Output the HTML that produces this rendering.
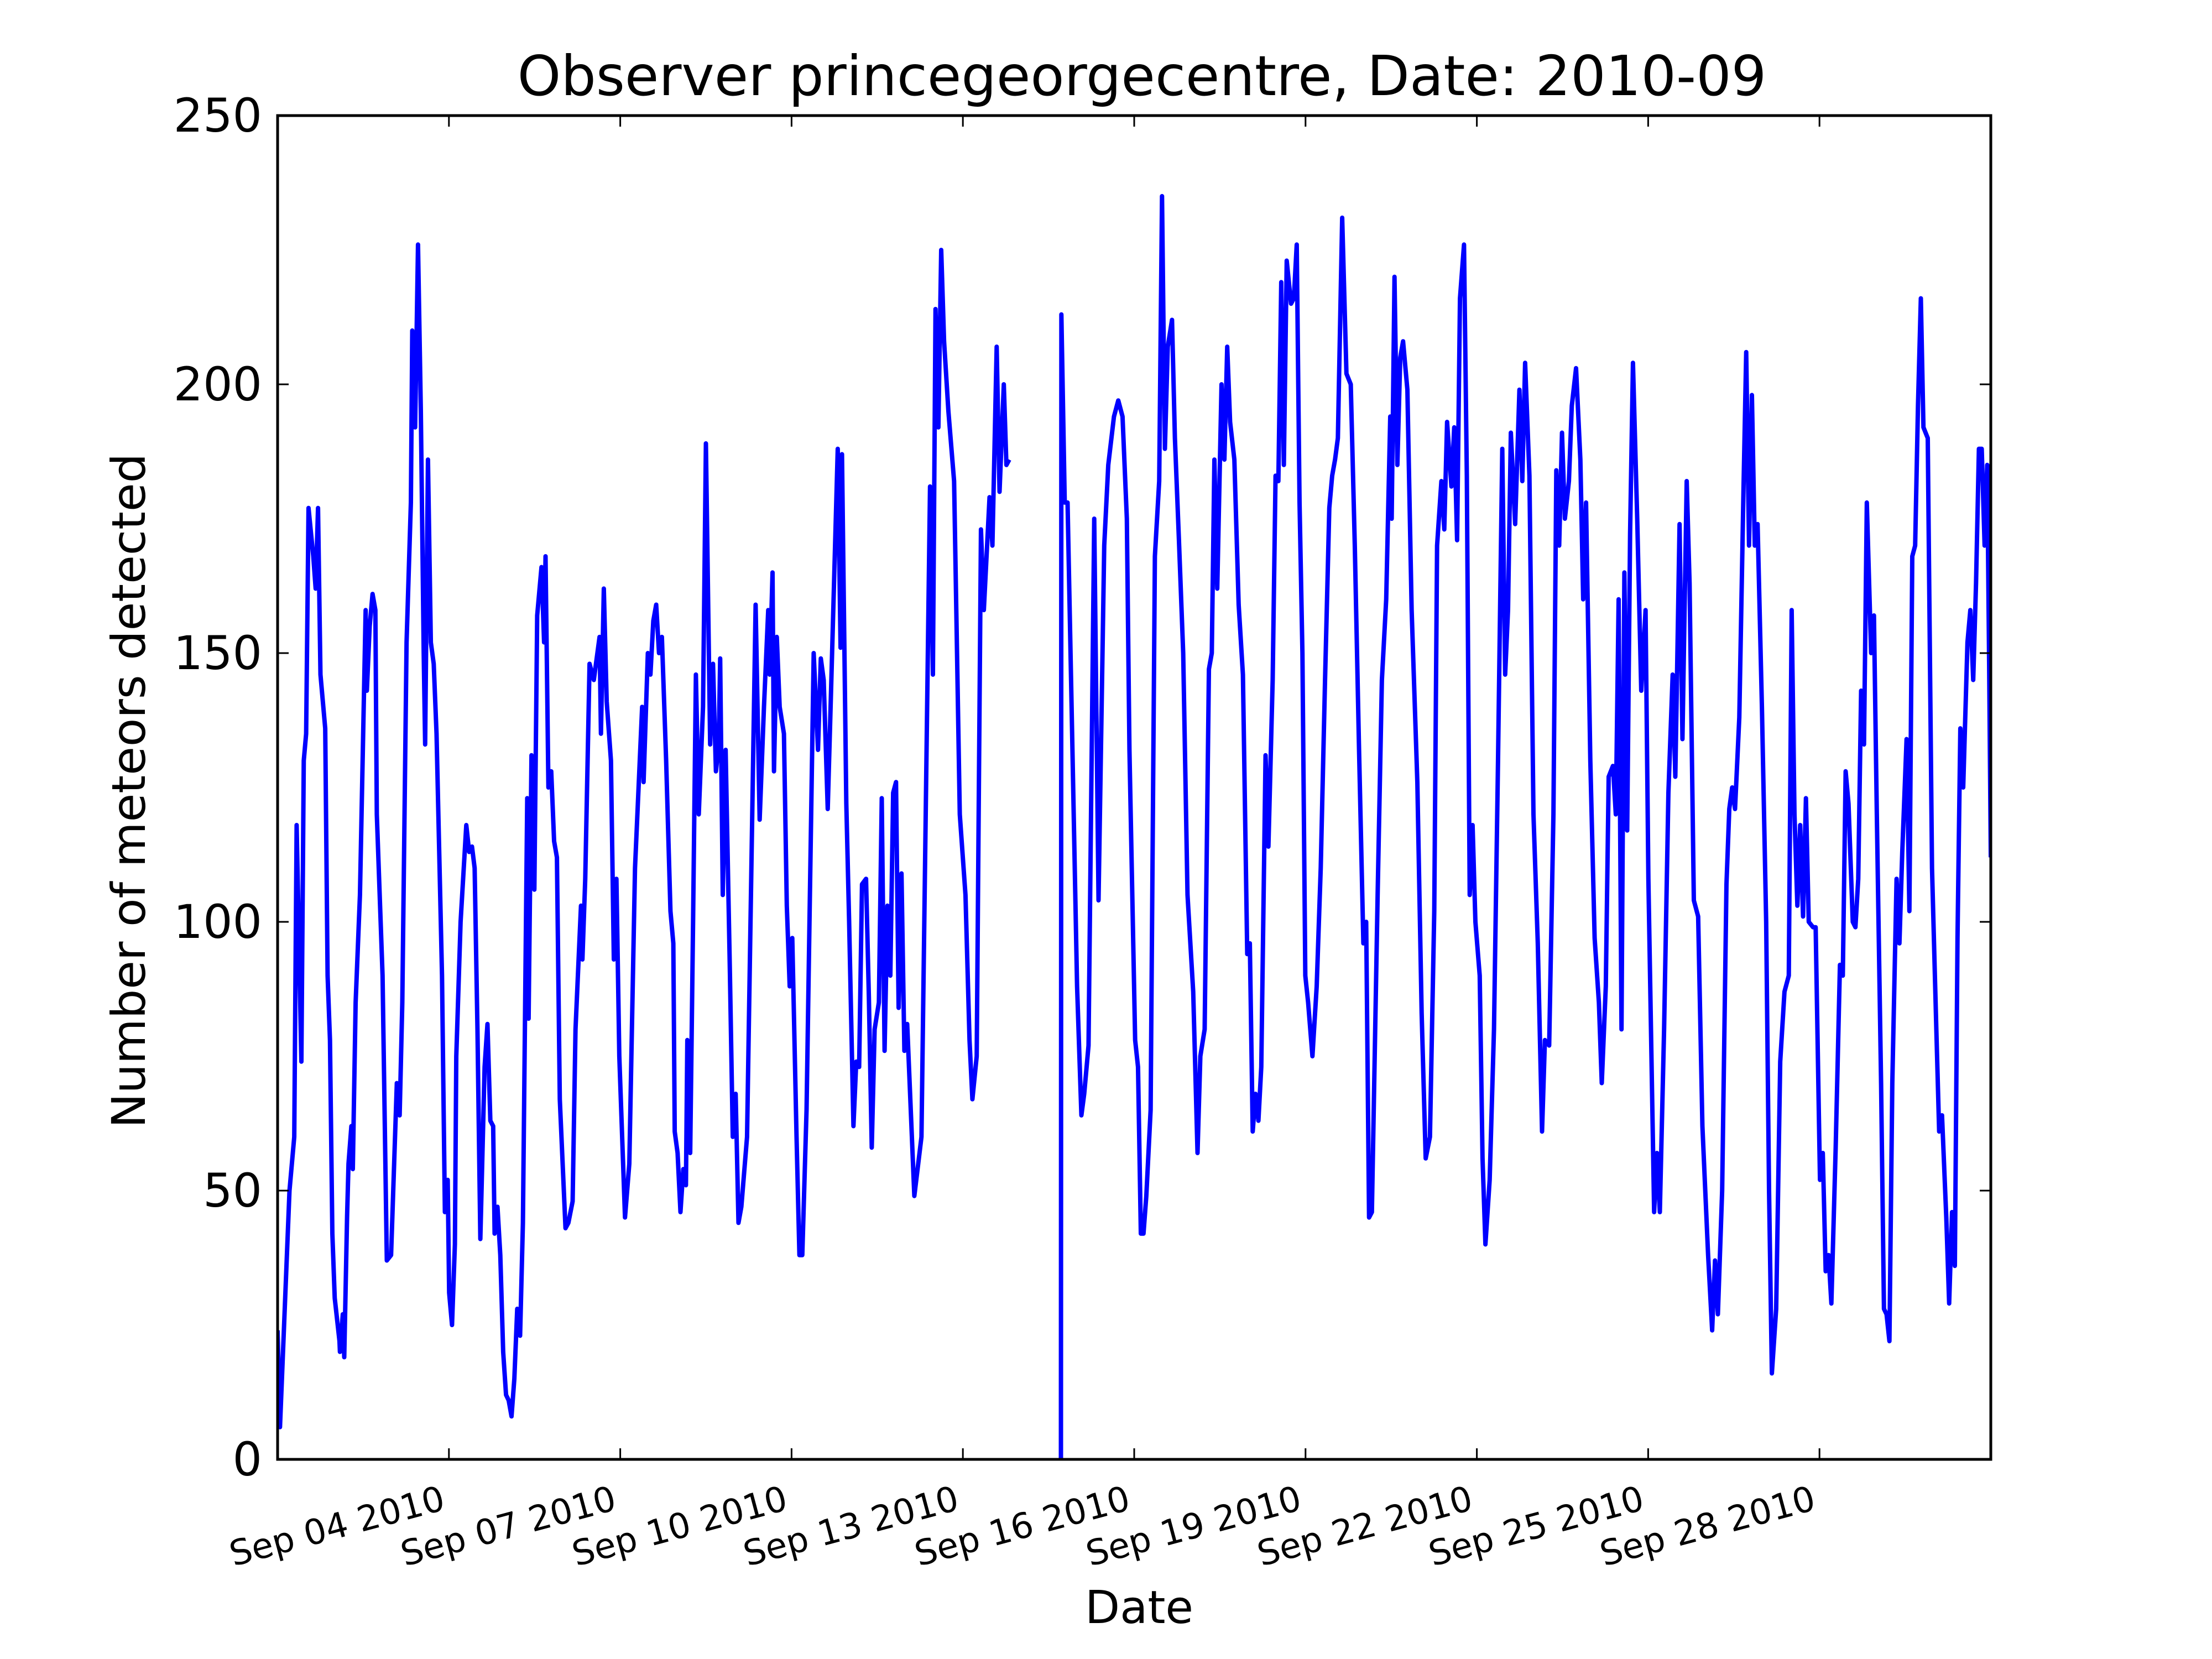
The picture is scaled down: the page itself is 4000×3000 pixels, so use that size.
<!DOCTYPE html>
<html>
<head>
<meta charset="utf-8">
<style>
  html, body { margin: 0; padding: 0; background: #ffffff; }
  svg { display: block; }
  text { font-family: "DejaVu Sans", "Liberation Sans", sans-serif; fill: #000; }
</style>
</head>
<body>
<svg id="chart" width="4000" height="3000" viewBox="0 0 4000 3000" xmlns="http://www.w3.org/2000/svg">
  <rect x="0" y="0" width="4000" height="3000" fill="#ffffff"/>
  <text x="2065" y="172" font-size="100" text-anchor="middle">Observer princegeorgecentre, Date: 2010-09</text>
  <g id="plot"></g>
  <g id="xticks"></g>
  <g id="yticks"></g>
  <text x="2060" y="2935" font-size="82" text-anchor="middle">Date</text>
  <text x="0" y="0" font-size="84" text-anchor="middle" transform="translate(262,1430) rotate(-90)">Number of meteors detected</text>
</svg>
<script>
// hours since 2010-09-01 00:00
const hours = [0,1,5,7,8,10,11,12,13,15,16,17,18,20,21,22,23,24,26,26.2,27.4,28.0,29.2,29.8,31.0,31.6,32.8,34.6,37.0,37.5,38.7,39.9,41.1,41.7,44.1,45.9,47.7,50.1,51.3,52.4,54.2,56.0,56.6,57.8,59.0,60.2,61.4,62.0,63.2,64.4,65.6,66.8,69.1,70.3,71.5,72.1,73.3,74.5,75.1,76.9,79.3,80.5,81.7,82.8,84.0,85.2,87.0,88.2,89.4,90.6,91.2,92.4,93.6,94.8,96.0,97.1,98.3,99.5,100.7,101.9,103.1,104.9,105.5,106.7,107.9,109.1,110.9,112.0,112.6,113.8,115.0,116.2,117.4,118.6,121.0,122.2,124.0,125.2,127.5,128.1,129.3,131.1,132.9,134.1,135.3,135.9,137.1,138.3,140.1,141.3,142.4,143.6,146.0,147.8,150.2,153.2,153.8,155.6,156.7,157.9,159.1,160.3,161.5,163.3,165.1,166.3,166.9,168.1,169.3,170.5,171.6,172.2,173.4,174.6,175.8,177.0,178.8,180.0,181.8,183.0,184.2,185.4,186.0,187.1,188.3,190.1,191.3,192.5,193.7,194.9,197.3,200.9,202.6,204.4,206.2,206.8,208.0,208.6,209.8,211.0,212.8,214.0,215.2,216.3,218.1,219.3,220.5,222.3,225.3,227.1,228.3,229.5,231.2,232.4,235.4,236.6,237.2,239.0,240.2,242.0,243.2,244.4,245.6,247.3,248.5,249.7,250.9,252.7,253.9,255.1,256.3,257.5,258.7,259.9,261.0,262.2,263.4,264.6,267.6,270.6,274.2,275.4,276.5,277.7,278.9,280.1,281.9,284.3,286.7,289.1,290.8,292.0,293.8,295.6,296.8,299.2,300.4,302.2,303.4,305.2,306.3,307.5,
  318,
  329.2,329.4,330.8,332.0,333.7,336.0,337.8,339.0,340.8,343.2,345.0,347.4,349.1,351.5,353.3,355.1,356.9,358.0,360.4,361.6,362.8,363.9,365.1,366.9,368.7,370.5,371.7,372.9,374.1,375.9,377.1,378.8,380.6,382.4,384.8,386.6,387.8,389.6,391.4,392.6,393.7,394.9,396.7,397.9,399.1,400.3,402.1,403.9,405.7,407.5,408.6,409.8,411.0,412.2,413.4,415.2,416.4,418.2,419.4,420.6,421.8,422.9,424.1,425.9,427.1,428.3,429.5,430.7,431.9,433.1,434.9,436.7,438.4,440.2,442.0,443.2,444.4,445.6,447.4,449.2,451.0,452.7,454.5,456.3,457.5,458.7,459.9,462.3,464.1,465.9,467.6,468.2,469.4,470.6,471.8,473.0,474.8,476.6,479.0,480.8,482.5,484.3,486.1,487.3,489.1,490.3,491.5,493.3,494.5,495.7,496.9,498.6,499.8,501.0,502.2,503.4,505.2,506.4,507.6,509.4,511.2,512.9,514.7,515.9,517.1,518.3,520.1,521.9,523.1,524.3,526.1,527.8,529.6,531.4,532.6,534.4,536.2,537.4,538.6,539.8,541.0,542.7,543.9,545.7,547.5,548.7,549.9,551.7,553.5,555.3,556.5,558.2,559.4,561.2,562.4,563.6,564.8,566.0,567.2,568.4,569.6,571.4,573.1,574.9,576.1,578.5,579.7,580.9,582.7,584.5,586.3,587.4,589.2,590.4,592.2,593.4,595.2,597.0,598.8,601.2,602.9,604.1,605.3,607.1,608.9,610.1,611.3,612.5,614.3,616.1,617.2,618.4,619.6,620.8,622.0,623.8,625.6,626.8,628.0,629.8,631.5,633.3,635.1,636.3,637.5,638.7,639.9,641.1,642.3,643.5,645.3,646.4,648.2,649.4,650.6,651.8,653.0,654.8,656.6,657.8,659.0,660.2,662.0,663.1,664.3,665.5,666.7,667.9,669.7,670.9,672.1,673.9,675.1,676.2,677.4,678.6,680.4,681.6,682.8,684.6,685.8,687.0,688.2,689.4,690.6,691.7,693.5,695.3,697.1,698.3,699.5,701.3,702.5,703.7,704.9,706.0,707.2,708.4,710.2,711.4,712.6,713.8,715.0,716.2,717.4,718.5,719.3,720.0];
const meteors = [24,6,50,60,118,74,130,135,177,168,162,177,146,136,90,78,42,30,22,20,27,19,45,55,62,54,85,105,158,143,155,161,158,120,90,37,38,70,64,85,152,178,210,192,226,195,150,133,186,152,148,135,90,46,52,31,25,40,75,100,118,113,114,110,80,41,73,81,63,62,42,47,38,20,12,11,8,15,28,23,44,123,82,131,106,157,166,152,168,125,128,115,112,67,43,44,48,80,103,93,108,148,145,149,153,135,162,141,130,93,108,75,45,55,110,140,126,150,146,156,159,150,153,130,102,96,61,57,46,54,51,78,57,100,146,120,140,189,133,148,128,133,149,105,132,90,60,68,44,47,60,159,119,140,158,146,165,128,153,140,135,103,88,97,60,38,38,65,150,132,149,145,121,140,188,151,187,122,100,62,74,73,107,108,86,58,80,85,123,76,103,90,124,126,84,109,76,81,49,60,181,146,214,192,225,208,195,182,120,105,78,67,75,173,158,179,170,207,180,200,185,186,
  null,
  0,213,178,178,140,88,64,68,77,175,104,170,185,194,197,194,175,132,78,73,42,42,49,65,168,182,235,188,207,212,190,171,150,105,87,57,75,80,147,150,186,162,200,186,207,193,186,159,146,94,96,61,68,63,73,131,114,145,183,182,219,185,223,215,216,226,178,150,90,85,75,88,110,145,177,183,186,190,231,202,200,170,132,96,100,45,46,105,145,160,194,175,220,185,205,208,199,158,126,83,56,60,102,170,182,173,193,181,192,171,216,226,183,105,118,100,90,56,40,52,80,130,188,146,158,191,174,199,182,204,183,120,96,61,78,77,120,184,170,191,175,182,196,203,186,160,178,130,97,85,70,88,127,129,120,160,80,165,117,172,204,175,143,158,108,46,57,46,80,124,146,127,174,134,182,163,104,101,62,38,24,37,27,50,107,121,125,121,138,181,206,170,198,170,174,140,100,50,16,28,74,87,90,158,120,103,118,101,123,100,99,99,52,57,35,38,29,58,92,90,128,122,100,99,108,143,133,178,150,157,120,70,28,27,22,70,108,96,113,134,102,168,170,196,216,192,190,110,80,61,64,45,29,46,36,97,136,125,152,158,145,163,188,188,170,185,148,112,124];
const yTickValues = [0,50,100,150,200,250];
const xTickHours = [72,144,216,288,360,432,504,576,648];
const xTickLabels = ["Sep 04 2010","Sep 07 2010","Sep 10 2010","Sep 13 2010","Sep 16 2010","Sep 19 2010","Sep 22 2010","Sep 25 2010","Sep 28 2010"];

const NS = "http://www.w3.org/2000/svg";
const L = 502, R = 3600, T = 209, B = 2639;
const XMAX = 720, YMAX = 250;
function xs(h) { return L + (h / XMAX) * (R - L); }
function ys(v) { return B - (v / YMAX) * (B - T); }

const plot = document.getElementById('plot');
let d = "", pen = false;
for (let i = 0; i < hours.length; i++) {
  if (meteors[i] === null) { pen = false; continue; }
  d += (pen ? "L" : "M") + xs(hours[i]).toFixed(1) + "," + ys(meteors[i]).toFixed(1);
  pen = true;
}
const clip = document.createElementNS(NS, 'clipPath');
clip.setAttribute('id', 'axclip');
const cr = document.createElementNS(NS, 'rect');
cr.setAttribute('x', L); cr.setAttribute('y', T); cr.setAttribute('width', R - L); cr.setAttribute('height', B - T);
clip.appendChild(cr);
plot.appendChild(clip);
const line = document.createElementNS(NS, 'path');
line.setAttribute('d', d);
line.setAttribute('fill', 'none');
line.setAttribute('stroke', '#0000ff');
line.setAttribute('stroke-width', '8');
line.setAttribute('stroke-linejoin', 'round');
line.setAttribute('clip-path', 'url(#axclip)');


plot.appendChild(line);

const frame = document.createElementNS(NS, 'rect');
frame.setAttribute('x', L); frame.setAttribute('y', T); frame.setAttribute('width', R - L); frame.setAttribute('height', B - T);
frame.setAttribute('fill', 'none'); frame.setAttribute('stroke', '#000'); frame.setAttribute('stroke-width', '5');


plot.appendChild(frame);

const yg = document.getElementById('yticks');
yTickValues.forEach(v => {
  const y = ys(v);
  [[L, L + 20], [R, R - 20]].forEach(p => {
    const t = document.createElementNS(NS, 'line');
    t.setAttribute('x1', p[0]); t.setAttribute('x2', p[1]); t.setAttribute('y1', y); t.setAttribute('y2', y);
    t.setAttribute('stroke', '#000'); t.setAttribute('stroke-width', '3');
    
    
    yg.appendChild(t);
  });
  const tx = document.createElementNS(NS, 'text');
  tx.setAttribute('x', L - 28); tx.setAttribute('y', y + 29);
  tx.setAttribute('font-size', '84'); tx.setAttribute('text-anchor', 'end');
  tx.textContent = String(v);
  
  
  yg.appendChild(tx);
});

const xg = document.getElementById('xticks');
xTickHours.forEach((h, i) => {
  const x = xs(h);
  [[B, B - 20], [T, T + 20]].forEach(p => {
    const t = document.createElementNS(NS, 'line');
    t.setAttribute('x1', x); t.setAttribute('x2', x); t.setAttribute('y1', p[0]); t.setAttribute('y2', p[1]);
    t.setAttribute('stroke', '#000'); t.setAttribute('stroke-width', '3');
    
    
    xg.appendChild(t);
  });
  const tx = document.createElementNS(NS, 'text');
  const ax = x - 4, ay = B + 90;
  tx.setAttribute('x', ax); tx.setAttribute('y', ay);
  tx.setAttribute('font-size', '63'); tx.setAttribute('text-anchor', 'end');
  tx.setAttribute('transform', 'rotate(-15 ' + ax + ' ' + ay + ')');
  tx.textContent = xTickLabels[i];
  
  
  xg.appendChild(tx);
});
</script>
</body>
</html>
